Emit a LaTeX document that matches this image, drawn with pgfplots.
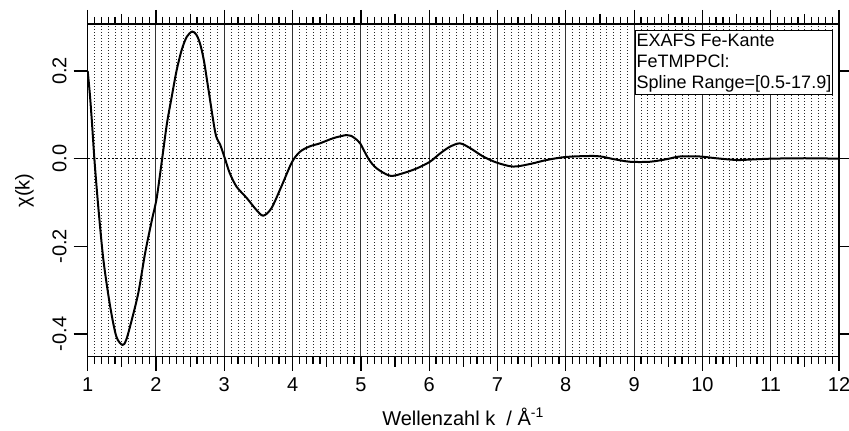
\documentclass[border=0pt]{standalone}
\usepackage{fontspec}
\setmainfont{Liberation Sans}
\usepackage{pgfplots}
\pgfplotsset{compat=1.18}

\begin{document}
\begin{tikzpicture}
\begin{axis}[
  scale only axis, width=375.65pt, height=166.35pt,
  xmin=1, xmax=12, ymin=-0.4518, ymax=0.3073,
  axis line style={line width=0.6pt},
  tick align=outside, xtick pos=both, ytick pos=both,
  xticklabel pos=bottom, yticklabel pos=left,
  xtick={1,...,12}, minor x tick num=9,
  extra x ticks={1.5,2.5,...,11.5}, extra x tick labels={},
  extra x tick style={major tick length=5pt, grid=none},
  ytick={-0.4,-0.2,0,0.2}, yticklabels={-0.4,-0.2,0.0,0.2},
  major tick length=7pt, minor tick length=3.5pt,
  tick style={black, line width=0.6pt},
  xmajorgrids, xminorgrids,
  major grid style={black!80, line width=0.5pt, solid},
  minor grid style={black!85, line width=0.4pt, dash pattern=on 0.6pt off 0.9pt},
  /pgf/number format/assume math mode=true,
  tick label style={font=\fontsize{10}{12}\selectfont},
  xticklabel style={anchor=north},
  yticklabel style={rotate=90, anchor=south},
  xlabel={Wellenzahl k~ / Å\textsuperscript{-1}},
  ylabel={χ(k)},
  label style={font=\fontsize{10}{12}\selectfont},
  xlabel style={at={([yshift=-34.15pt]axis description cs:0.5,0)}, anchor=base},
  ylabel style={at={([xshift=-31.6pt]axis description cs:0,0.5)}, anchor=center},
]
% zero line
\addplot[black, line width=0.8pt, dash pattern=on 1pt off 1pt] coordinates {(1,0) (12,0)};
% chi(k)
\addplot[black, line width=1pt, smooth, tension=0.5] coordinates {
 (1.00,0.200) (1.03,0.150) (1.06,0.088) (1.10,-0.005) (1.155,-0.110)
 (1.23,-0.231) (1.33,-0.338) (1.42,-0.406) (1.51,-0.425) (1.56,-0.415)
 (1.62,-0.383) (1.74,-0.307) (1.84,-0.216) (1.94,-0.140) (2.01,-0.090)
 (2.09,0.000) (2.16,0.080) (2.23,0.141) (2.30,0.200) (2.376,0.248)
 (2.45,0.278) (2.53,0.290) (2.59,0.283) (2.644,0.263) (2.70,0.225)
 (2.766,0.160) (2.87,0.058) (2.94,0.032) (3.01,0.000) (3.08,-0.033)
 (3.18,-0.064) (3.33,-0.090) (3.47,-0.117) (3.57,-0.130) (3.69,-0.113)
 (3.84,-0.062) (3.99,-0.008) (4.11,0.016) (4.25,0.028) (4.40,0.035)
 (4.60,0.047) (4.79,0.054) (4.86,0.052) (4.94,0.043) (4.99,0.035)
 (5.11,0.000) (5.23,-0.022) (5.43,-0.039) (5.62,-0.033) (5.82,-0.022)
 (6.01,-0.007) (6.16,0.012) (6.30,0.027) (6.45,0.035) (6.60,0.024)
 (6.79,0.005) (6.99,-0.009) (7.23,-0.018) (7.48,-0.012) (7.72,-0.003)
 (8.01,0.004) (8.45,0.006) (8.70,-0.001) (8.94,-0.007) (9.23,-0.007)
 (9.48,-0.001) (9.67,0.005) (9.96,0.005) (10.2,0.001) (10.5,-0.003)
 (10.7,-0.002) (11.0,0.000) (11.5,0.001) (12.0,0.000)
};
\node[draw, line width=0.5pt, fill=white, anchor=north east, align=left,
  inner xsep=0.6pt, inner ysep=1.5pt, font=\fontsize{9}{10.5}\selectfont]
  at ([xshift=-3pt,yshift=-3pt]rel axis cs:1,1)
  {EXAFS Fe-Kante\\FeTMPPCl:\\Spline Range=[0.5-17.9]};
\end{axis}
\pgfresetboundingbox
\useasboundingbox (-43.85pt,-36.65pt) rectangle (380.65pt,178.35pt);
\end{tikzpicture}
\end{document}
